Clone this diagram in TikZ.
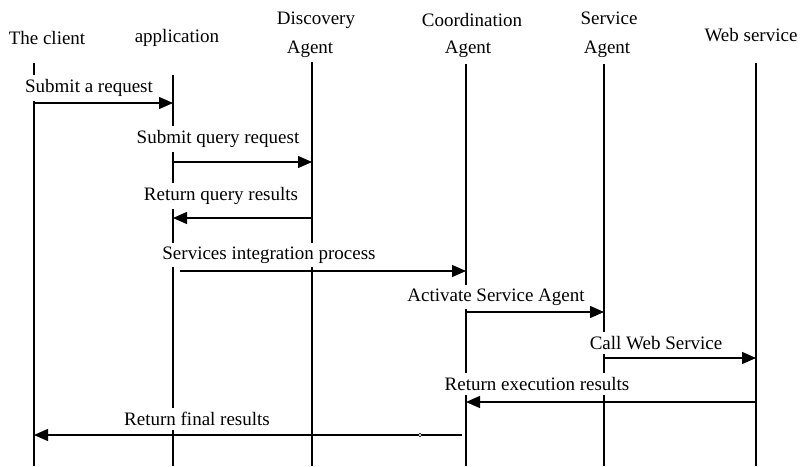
\documentclass[tikz,border=0pt]{standalone}
\usepackage{fontspec}
\setmainfont{Liberation Serif}
\usetikzlibrary{arrows.meta}
\begin{document}
\begin{tikzpicture}[x=1pt,y=-1pt,
  hdr/.style={font=\fontsize{19}{21}\selectfont, inner sep=0pt, anchor=center},
  lbl/.style={font=\fontsize{19}{21}\selectfont, inner xsep=1pt, inner ysep=4pt, fill=white, anchor=center},
  life/.style={line width=1.3pt},
  msg/.style={line width=1.3pt, -{Triangle[length=14pt,width=12pt]}},
  dot/.style={circle, draw, line width=0.6pt, fill=white, inner sep=0pt, minimum size=3.5pt}]
\useasboundingbox (0,0) rectangle (800,466);
% headers
\node[hdr] (hcl) at (47,38) {The client};
\node[hdr] (hap) at (177,38) {application};
\node[hdr] (hdi1) at (316,20) {Discovery};
\node[hdr] (hdi2) at (310,49) {Agent};
\node[hdr] (hco1) at (472,20) {Coordination};
\node[hdr] (hco2) at (468,49) {Agent};
\node[hdr] (hse1) at (609,18) {Service};
\node[hdr] (hse2) at (607,49) {Agent};
\node[hdr] (hws) at (751,35) {Web service};
% lifelines
\coordinate (cl0) at (34,63); \coordinate (cl1) at (34,466);
\coordinate (ap0) at (173,75); \coordinate (ap1) at (173,466);
\coordinate (di0) at (312,62); \coordinate (di1) at (312,466);
\coordinate (co0) at (466,64); \coordinate (co1) at (466,466);
\coordinate (se0) at (604,64); \coordinate (se1) at (604,466);
\coordinate (ws0) at (756,63); \coordinate (ws1) at (756,466);
\draw[life] (cl0) -- (cl1);
\draw[life] (ap0) -- (ap1);
\draw[life] (di0) -- (di1);
\draw[life] (co0) -- (co1);
\draw[life] (se0) -- (se1);
\draw[life] (ws0) -- (ws1);
% labels (white boxes hide lifelines behind them)
\node[lbl] (l1) at (89,88) {Submit a request};
\node[lbl] (l2) at (218,139) {Submit query request};
\node[lbl] (l3) at (221,196) {Return query results};
\node[lbl] (l4) at (269,255) {Services integration process};
\node[lbl] (l5) at (496,297) {Activate Service Agent};
\node[lbl] (l6) at (656,343) {Call Web Service};
\node[lbl] (l7) at (537,384) {Return execution results};
\node[lbl] (l8) at (197,419) {Return final results};
% messages
\coordinate (m1a) at (34,103); \coordinate (m1b) at (173,103);
\draw[msg] (m1a) -- (m1b);
\coordinate (m2a) at (173,162); \coordinate (m2b) at (312,162);
\draw[msg] (m2a) -- (m2b);
\coordinate (m3a) at (312,218); \coordinate (m3b) at (173,218);
\draw[msg] (m3a) -- (m3b);
\coordinate (m4a) at (180,271); \coordinate (m4b) at (466,271);
\draw[msg] (m4a) -- (m4b);
\coordinate (m5a) at (466,312); \coordinate (m5b) at (604,312);
\draw[msg] (m5a) -- (m5b);
\coordinate (m6a) at (604,358); \coordinate (m6b) at (756,358);
\draw[msg] (m6a) -- (m6b);
\coordinate (m7a) at (756,402); \coordinate (m7b) at (466,402);
\draw[msg] (m7a) -- (m7b);
\coordinate (m8a) at (462,435); \coordinate (m8b) at (34,435);
\draw[msg] (m8a) -- (m8b);
\node[dot] (d8) at (420,435) {};
\end{tikzpicture}
\end{document}
